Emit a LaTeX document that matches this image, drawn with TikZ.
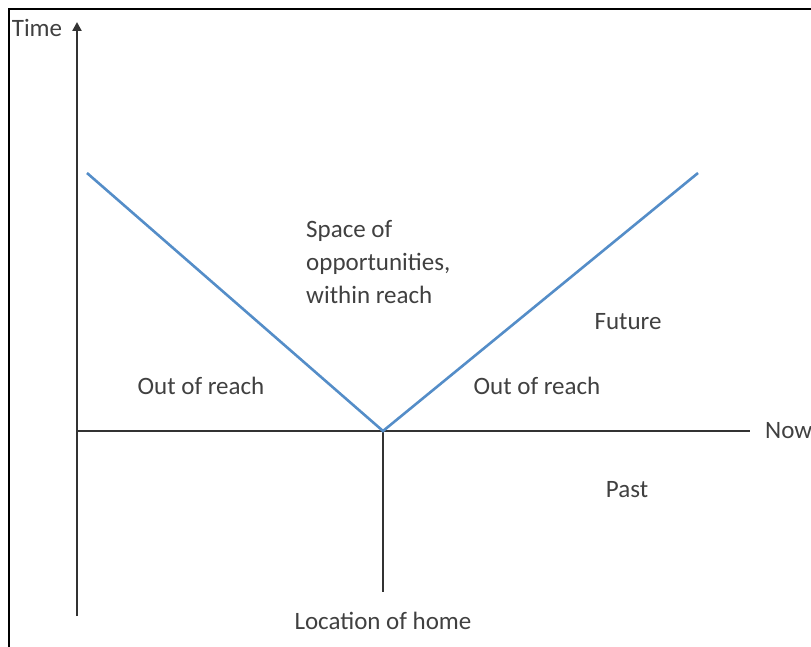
\documentclass[tikz,border=0pt]{standalone}
\usepackage{fontspec}
\setmainfont{Carlito}
\usetikzlibrary{arrows.meta}
\definecolor{conecol}{RGB}{84,141,200}
\definecolor{txtcol}{RGB}{64,64,64}

\begin{document}
\begin{tikzpicture}[x=1pt,y=-1pt,
    axis/.style={line width=2.6pt,black!80},
    cone/.style={line width=2.6pt,conecol},
    lbl/.style={text=txtcol,font=\fontsize{25}{33}\selectfont,inner sep=0pt}]
  \useasboundingbox (0,0) rectangle (811,647);
  \draw[line width=2pt] (9,647) -- (9,9) -- (811,9);
  \coordinate (orig) at (77,431);
  \coordinate (ybot) at (77,616);
  \coordinate (ytop) at (77,22);
  \coordinate (xend) at (750,431);
  \coordinate (home) at (383,431);
  \coordinate (homebot) at (383,592);
  \coordinate (lefttop) at (87,173);
  \coordinate (righttop) at (698,173);
  \draw[axis,-{Triangle[width=9pt,length=9pt]}] (ybot) -- (ytop);
  \draw[axis] (orig) -- (xend);
  \draw[axis] (home) -- (homebot);
  \draw[cone] (lefttop) -- (home) -- (righttop);
  \node[lbl] (time) at (37,28) {Time};
  \node[lbl,anchor=west] (now) at (765,431) {Now};
  \node[lbl,align=left,anchor=west] (space) at (306,262) {Space of\\opportunities,\\within reach};
  \node[lbl] (future) at (628,322) {Future};
  \node[lbl] (outl) at (201,386) {Out of reach};
  \node[lbl] (outr) at (537,386) {Out of reach};
  \node[lbl] (past) at (627,490) {Past};
  \node[lbl] (loc) at (383,621) {Location of home};
\end{tikzpicture}
\end{document}
